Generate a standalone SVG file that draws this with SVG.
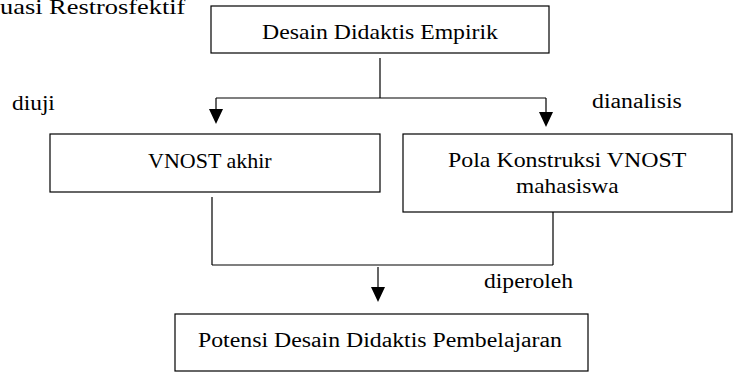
<svg xmlns="http://www.w3.org/2000/svg" width="734" height="372" viewBox="0 0 734 372">
<style>
.box{fill:#fff;stroke:#000;stroke-width:1.2}
.ln{fill:none;stroke:#000;stroke-width:1.2}
.ah{fill:#000;stroke:none}
.t{font-family:'Liberation Serif','Times New Roman',Times,serif;font-size:20px;fill:#000}
</style>
<defs>
<polygon id="head" points="-7,0 7,0 0,15" class="ah"/>
</defs>
<rect width="734" height="372" fill="#fff"/>
<text class="t" transform="translate(0 14) scale(1.2 1)" style="font-size:22px">uasi Restrosfektif</text>
<g id="node-desain">
<rect class="box" x="211" y="6" width="338" height="47"/>
<text class="t" transform="translate(262 39) scale(1.187 1)">Desain Didaktis Empirik</text>
</g>
<g id="node-vnost">
<rect class="box" x="50" y="134" width="330" height="58"/>
<text class="t" transform="translate(148 168) scale(1.1 1)">VNOST akhir</text>
</g>
<g id="node-pola">
<rect class="box" x="403" y="134" width="329" height="78"/>
<text class="t" transform="translate(448 167) scale(1.195 1)">Pola Konstruksi VNOST</text>
<text class="t" transform="translate(516 193) scale(1.17 1)">mahasiswa</text>
</g>
<g id="node-potensi">
<rect class="box" x="175" y="314" width="413" height="57"/>
<text class="t" transform="translate(198 347) scale(1.19 1)">Potensi Desain Didaktis Pembelajaran</text>
</g>
<g id="connectors">
<path class="ln" d="M380,58 V98 M216,98 H546 M216,98 V110 M546,98 V112"/>
<use href="#head" x="216" y="109"/>
<use href="#head" x="546" y="112"/>
<path class="ln" d="M212,197 V265 M553,212 V265 M212,265 H553 M378,267 V288"/>
<use href="#head" x="378" y="287"/>
</g>
<text class="t" transform="translate(12 110) scale(1.17 1)">diuji</text>
<text class="t" transform="translate(592 108) scale(1.19 1)">dianalisis</text>
<text class="t" transform="translate(484 288) scale(1.18 1)">diperoleh</text>
</svg>
